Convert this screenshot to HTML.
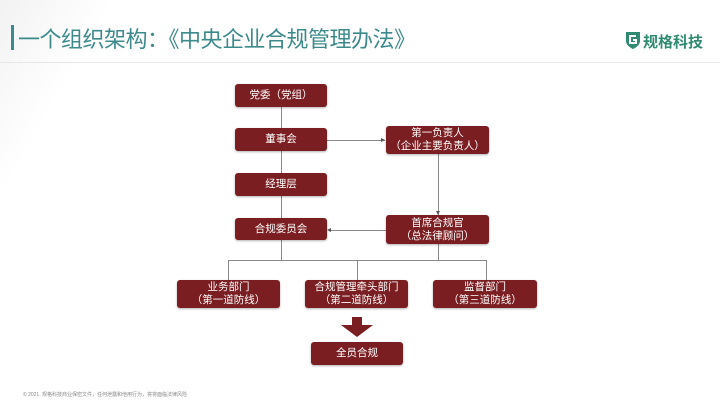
<!DOCTYPE html>
<html><head><meta charset="utf-8"><style>
body{margin:0;width:720px;height:405px;background:#fff;position:relative;overflow:hidden;font-family:"Liberation Sans","Noto Sans CJK SC",sans-serif}
.b{position:absolute;background:#7b1e22;color:#fff;border-radius:3px;display:flex;flex-direction:column;align-items:center;justify-content:center;font-size:10.5px;line-height:13px;box-shadow:0 1px 2px rgba(0,0,0,.3)}
.l{position:absolute;background:#8a8a8a}
</style></head><body>
<div style="position:absolute;left:0;top:0;width:720px;height:405px;background:linear-gradient(120deg,#f2f2f2 0,#fff 12%,#fff 100%)"></div>
<div style="position:absolute;left:11px;top:25px;width:3px;height:25px;background:#3d8a8c"></div>
<div style="position:absolute;left:18px;top:22px;font-size:22px;color:#3d8a8c;white-space:nowrap;letter-spacing:-0.5px">一个组织架构：《中央企业合规管理办法》</div>
<div style="position:absolute;left:0;top:62px;width:720px;height:1px;background:#e6e6e6"></div>
<svg style="position:absolute;left:624px;top:30px" width="18" height="20" viewBox="0 0 18 20"><path d="M2 2h14v9c0 5-7 8-7 8s-7-3-7-8z" fill="#2e8a70"/><path d="M12 6H6v7h6v-3H9" stroke="#fff" stroke-width="2" fill="none"/></svg>
<div style="position:absolute;left:643px;top:31px;font-size:15px;font-weight:bold;color:#2e8a70;white-space:nowrap">规格科技</div>

<div class="l" style="left:281px;top:107px;width:1px;height:21px"></div>
<div class="l" style="left:281px;top:151px;width:1px;height:22px"></div>
<div class="l" style="left:281px;top:196px;width:1px;height:22px"></div>
<div class="l" style="left:327px;top:140px;width:58px;height:1px"></div>
<div class="l" style="left:438px;top:154px;width:1px;height:61px"></div>
<div class="l" style="left:329px;top:230px;width:57px;height:1px"></div>
<div class="l" style="left:281px;top:240px;width:1px;height:20px"></div>
<div class="l" style="left:438px;top:244px;width:1px;height:16px"></div>
<div class="l" style="left:228px;top:260px;width:258px;height:1px"></div>
<div class="l" style="left:228px;top:260px;width:1px;height:20px"></div>
<div class="l" style="left:357px;top:260px;width:1px;height:20px"></div>
<div class="l" style="left:486px;top:260px;width:1px;height:20px"></div>
<svg style="position:absolute;left:0;top:0" width="720" height="405">
<g fill="#555"><path d="M385 140l-4-2v4z"/><path d="M327 230l4-2v4z"/><path d="M438 215l-2-4h4z"/></g>
<path d="M352 317h10v8h11l-16 12-16-12h11z" fill="#7b1e22"/>
</svg>

<div class="b" style="left:235px;top:84px;width:92px;height:23px">党委（党组）</div>
<div class="b" style="left:235px;top:128px;width:92px;height:23px">董事会</div>
<div class="b" style="left:235px;top:173px;width:92px;height:23px">经理层</div>
<div class="b" style="left:235px;top:218px;width:92px;height:22px">合规委员会</div>
<div class="b" style="left:386px;top:126px;width:103px;height:28px">第一负责人<span>（企业主要负责人）</span></div>
<div class="b" style="left:386px;top:215px;width:103px;height:29px">首席合规官<span>（总法律顾问）</span></div>
<div class="b" style="left:177px;top:280px;width:103px;height:28px">业务部门<span>（第一道防线）</span></div>
<div class="b" style="left:305px;top:280px;width:103px;height:28px">合规管理牵头部门<span>（第二道防线）</span></div>
<div class="b" style="left:433px;top:280px;width:104px;height:28px">监督部门<span>（第三道防线）</span></div>
<div class="b" style="left:311px;top:342px;width:92px;height:23px">全员合规</div>
<div style="position:absolute;left:23px;top:391px;font-size:5px;color:#888;white-space:nowrap">© 2021. 规格科技商业保密文件，任何泄露和他用行为，将将面临法律风险</div>
</body></html>
